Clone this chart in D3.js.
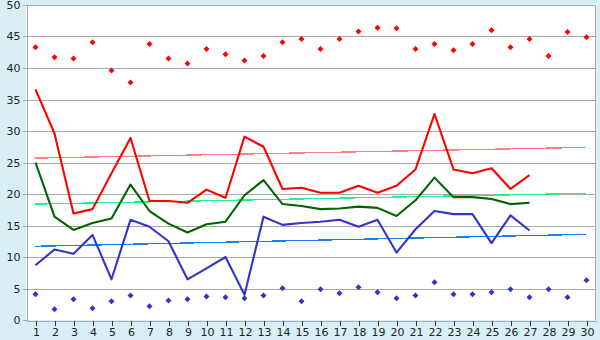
<!DOCTYPE html>
<html>
<head>
<meta charset="utf-8">
<script src="https://cdn.jsdelivr.net/npm/d3@7"></script>
<style>
  html, body { margin: 0; padding: 0; background: #d9eff6; }
  svg { display: block; }
  text { font-family: "DejaVu Sans", Verdana, sans-serif; font-size: 11px; fill: #222; }
</style>
</head>
<body>
<svg id="chart" width="600" height="340"></svg>
<script>
// Days of the month
const days = d3.range(1, 31);

// Daily peaks (red points) and lows (blue points)
const highPoints = [43.3, 41.7, 41.5, 44.1, 39.6, 37.7, 43.8, 41.5, 40.7, 43.0,
                    42.2, 41.2, 41.9, 44.1, 44.6, 43.0, 44.6, 45.8, 46.4, 46.3,
                    43.0, 43.8, 42.8, 43.8, 46.0, 43.3, 44.6, 41.9, 45.7, 44.9];
const lowPoints  = [4.07, 1.7, 3.3, 1.85, 2.96, 3.9, 2.17, 3.1, 3.3, 3.75,
                    3.6, 3.44, 3.9, 5.03, 2.96, 4.87, 4.23, 5.19, 4.39, 3.44,
                    3.9, 5.98, 4.07, 4.07, 4.39, 4.87, 3.6, 4.87, 3.6, 6.3];

// Daily series (days 1–27)
const upperLine  = [36.6, 29.6, 16.9, 17.6, 23.3, 28.9, 18.9, 18.9, 18.6, 20.7,
                    19.4, 29.1, 27.5, 20.8, 21.0, 20.2, 20.2, 21.3, 20.2, 21.3,
                    23.9, 32.7, 23.9, 23.3, 24.1, 20.8, 23.0];
const middleLine = [25.0, 16.4, 14.3, 15.4, 16.1, 21.5, 17.3, 15.3, 13.9, 15.2,
                    15.6, 19.8, 22.2, 18.4, 18.1, 17.6, 17.7, 18.0, 17.8, 16.5,
                    19.0, 22.6, 19.5, 19.5, 19.2, 18.4, 18.6];
const lowerLine  = [8.7, 11.2, 10.5, 13.5, 6.46, 15.9, 14.8, 12.5, 6.46, 8.2,
                    10.0, 4.0, 16.4, 15.1, 15.4, 15.6, 15.9, 14.8, 15.9, 10.7,
                    14.4, 17.3, 16.8, 16.8, 12.2, 16.6, 14.2];

// Trend lines: value on day 1 and on day 30
const upperTrend  = [25.7, 27.4];
const middleTrend = [18.4, 20.1];
const lowerTrend  = [11.7, 13.6];

const yTicks = d3.range(0, 51, 5);

const svg = d3.select("#chart");
const plot = { left: 26, right: 596, top: 5, bottom: 320 };

const x = d3.scalePoint().domain(days).range([plot.left, plot.right]).padding(0.5);
const y = d3.scaleLinear().domain([0, 50]).range([plot.bottom, plot.top]);

// Plot background
svg.append("rect")
  .attr("x", plot.left).attr("y", plot.top)
  .attr("width", plot.right - plot.left - 1).attr("height", plot.bottom - plot.top)
  .attr("fill", "#ffffff");

// Horizontal gridlines
svg.append("g")
  .selectAll("line").data(yTicks.filter(d => d > 0)).join("line")
  .attr("x1", plot.left).attr("x2", plot.right - 1)
  .attr("y1", d => Math.round(y(d)) + 0.5).attr("y2", d => Math.round(y(d)) + 0.5)
  .attr("stroke", "#aaaaaa").attr("shape-rendering", "crispEdges");

// Right border
svg.append("line")
  .attr("x1", plot.right - 0.5).attr("x2", plot.right - 0.5)
  .attr("y1", plot.top).attr("y2", plot.bottom)
  .attr("stroke", "#aaaaaa").attr("shape-rendering", "crispEdges");

// Y axis
const yAxis = svg.append("g")
  .attr("transform", `translate(${plot.left + 0.5},0)`)
  .call(d3.axisLeft(y).tickValues(yTicks).tickSize(4).tickPadding(2).tickSizeOuter(0));
yAxis.select(".domain").attr("stroke", "#aaaaaa").attr("shape-rendering", "crispEdges");
yAxis.selectAll(".tick line").attr("stroke", "#aaaaaa").attr("shape-rendering", "crispEdges")
  .attr("transform", "translate(0,0.5)");
yAxis.selectAll("text").style("font-size", "11px").attr("fill", "#222");
yAxis.selectAll(".tick").attr("transform", d => `translate(0,${Math.round(y(d))})`);

// X axis
const xAxis = svg.append("g")
  .attr("transform", `translate(0,${plot.bottom + 0.5})`)
  .call(d3.axisBottom(x).tickSize(5).tickPadding(3).tickSizeOuter(0));
xAxis.select(".domain").attr("stroke", "#aaaaaa").attr("shape-rendering", "crispEdges");
xAxis.selectAll(".tick line").attr("stroke", "#333333").attr("shape-rendering", "crispEdges");
xAxis.selectAll("text").style("font-size", "11px").attr("fill", "#222");
xAxis.selectAll(".tick").attr("transform", d => `translate(${Math.round(x(d)) + 0.5},0)`);

// Trend lines
const trends = [
  { v: upperTrend, color: "#ff8080" },
  { v: middleTrend, color: "#1cf58a" },
  { v: lowerTrend, color: "#1a80f0" }
];
svg.append("g").selectAll("line").data(trends).join("line")
  .attr("x1", x(1)).attr("x2", x(30))
  .attr("y1", d => y(d.v[0])).attr("y2", d => y(d.v[1]))
  .attr("stroke", d => d.color).attr("stroke-width", 1.3)
  .attr("shape-rendering", "crispEdges");

// Daily series lines
const line = d3.line().x((d, i) => x(days[i])).y(d => y(d));
const series = [
  { v: upperLine, color: "#ff0000" },
  { v: middleLine, color: "#006400" },
  { v: lowerLine, color: "#3333cc" }
];
svg.append("g").selectAll("path").data(series).join("path")
  .attr("d", d => line(d.v))
  .attr("fill", "none")
  .attr("stroke", d => d.color)
  .attr("stroke-width", 2.1)
  .attr("stroke-linejoin", "round");

// Point markers
const marker = d3.symbol().type(d3.symbolSquare).size(18)();
const pointSets = [
  { v: highPoints, color: "#ff0000" },
  { v: lowPoints, color: "#3333cc" }
];
pointSets.forEach(set => {
  svg.append("g").selectAll("path").data(set.v).join("path")
    .attr("d", marker)
    .attr("transform", (d, i) => `translate(${x(days[i])},${y(d)}) rotate(45)`)
    .attr("fill", set.color);
});
</script>
</body>
</html>
